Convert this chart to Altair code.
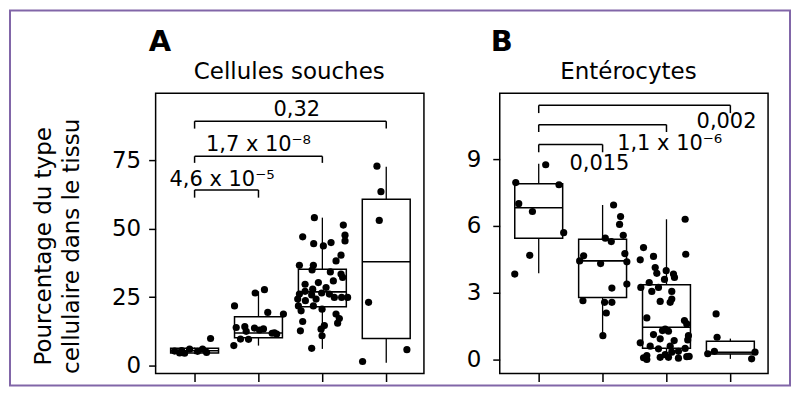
import altair as alt
import pandas as pd

FONT = "DejaVu Sans"

# ---------------- data ----------------
groups = [1, 2, 3, 4]

# Panel A : Cellules souches
A_q1 = [4.6, 10.2, 21.5, 9.9]
A_med = [5.4, 11.9, 26.9, 37.9]
A_q3 = [6.3, 17.8, 35.2, 60.7]
A_lo = [4.2, 7.3, 6.1, 1.0]
A_hi = [6.6, 27.1, 54.0, 72.6]

A_pt_group = [1]*9 + [2]*17 + [3]*45 + [4]*6
A_pt_jit_px = [
    -13, -10, -5, 8, 12, 3, -15, 16, -20,
    6, -3.3, -24, 9.3, 25, -22.3, -13.7, -4, 5, 13.7, 18.3, -18, -10, -24.7, -12.3, 1, 16,
    -8, -19.7, 21, 22.7, 22.7, -8.7, 1, 8.7, 18.7, 13.7, -23, -9, -10.3, 8, 18.7, 20.3, -17.3,
    -4, 11, -9.7, -17.3, -0.7, 7, 12, 19.3, 25.3, -10.7, -24.7, -17, -24, -9, -0.3, -21.3,
    13.7, 17, -19.7, 15.3, 2, -1.3, -22, -0.3, -10.7, 3.7, -6.3, -23,
    -9.3, -5.3, -7, -17.7, 20.7, -23.7,
]
A_pt_val = [
    5.5, 4.5, 6.0, 6.0, 4.8, 5.2, 4.6, 9.9, 5.3,
    27.7, 26.5, 21.8, 19.4, 18.8, 13.9, 14.2, 13.7, 13.4, 11.8, 11.5, 9.7, 9.6, 7.3, 12.5, 13.0, 12.0,
    54.0, 47.0, 51.3, 47.6, 45.5, 44.5, 43.7, 44.9, 40.3, 38.2, 36.6, 36.6, 34.9, 34.2, 33.4, 32.2, 29.7,
    30.3, 30.9, 27.9, 27.1, 26.5, 26.1, 24.9, 24.9, 24.9, 25.8, 24.3, 23.7, 21.8, 21.8, 20.6, 20.0,
    18.8, 17.2, 16.1, 15.5, 14.6, 13.3, 12.7, 10.9, 6.3, 28.5, 24.3, 26.1,
    72.8, 63.5, 53.0, 23.1, 5.8, 1.5,
]

A_br_end = [2, 3, 4]
A_br_y = [64.1, 76.4, 89.2]
A_br_drop = [61.3, 74.0, 86.5]
A_lab_text = ["4,6 x 10⁻⁵", "1,7 x 10⁻⁸", "0,32"]
A_lab_x = [1.43, 2.0, 2.6]
A_lab_y = [65.5, 78.3, 91.0]

# Panel B : Entérocytes
B_q1 = [5.45, 2.79, 0.51, 0.25]
B_med = [6.82, 4.43, 1.45, 0.32]
B_q3 = [7.9, 5.4, 3.36, 0.82]
B_lo = [3.87, 1.07, 0.0, 0.03]
B_hi = [8.79, 6.94, 6.3, 0.94]

B_pt_group = [1]*8 + [2]*18 + [3]*46 + [4]*6
B_pt_jit_px = [
    7, -23, 20.3, -20, -6.3, 25, -9, -24,
    11, 18, 17, 20.7, 2.7, 8.7, -19, -23, 22.3, 24.3, -2, 24.3, 9.3, -19.7, 2, 9.3, 3.7, 0.3,
    18.7, 19.3, -23, -13, -26.3, -11.3, -9.7, -0.3, 7, 8, -2, -17.3, -25.7, -8, -14.7, 5.3,
    -6.3, 3.7, 5.3, -19.7, 18, 20.3, -1.3, -4, -13, 2, 22, 21.3, -6.3, 7.7, -26.3, -16.3,
    3.7, 18.7, -8, 12, 5.3, -19.7, -23, -19.7, -6.3, 2, -1.3, 12, 20.3, 22.7,
    -14.3, -13.3, -16, -22.7, 24.7, 21.3,
]
B_pt_val = [
    8.75, 7.95, 7.85, 7.0, 6.65, 5.7, 4.68, 3.84,
    6.94, 6.42, 6.07, 5.58, 5.45, 5.3, 4.66, 4.43, 4.76, 4.39, 4.31, 3.39, 3.21, 2.64, 2.57, 2.57, 2.09, 1.07,
    6.3, 4.73, 5.03, 4.63, 4.48, 4.13, 3.87, 3.99, 3.84, 3.69, 3.6, 3.46, 3.24, 3.24, 3.06, 3.06,
    2.61, 2.57, 2.72, 1.87, 1.75, 1.6, 1.37, 1.3, 1.12, 1.27, 1.07, 0.88, 0.93, 0.85, 0.75, 0.6,
    0.6, 0.5, 0.48, 0.37, 0.33, 0.18, 0.08, 0.0, 0.1, 0.1, 0.22, 0.06, 0.13, 0.14,
    2.05, 1.0, 0.37, 0.26, 0.33, 0.03,
]

B_br_end = [2, 3, 4]
B_br_y = [9.66, 10.55, 11.42]
B_br_drop = [9.31, 10.22, 11.07]
B_lab_text = ["0,015", "1,1 x 10⁻⁶", "0,002"]
B_lab_x = [1.95, 3.05, 3.94]
B_lab_y = [8.51, 9.39, 10.4]

panel_letters = ["A", "B"]
panel_titles = ["Cellules souches", "Entérocytes"]
y_title = ["Pourcentage du type", "cellulaire dans le tissu"]
A_ticks = [0, 25, 50, 75]
B_ticks = [0, 3, 6, 9]
A_domain = [-2.9, 99.4]
B_domain = [-0.63, 11.96]
X_domain = [0.39, 4.59]

W, H = 269, 281
STEP = 64.0
BOX_HALF = 0.375


def panel(q1, med, q3, lo, hi, pg, pj, pv, br_end, br_y, br_drop,
          lab_text, lab_x, lab_y, ticks, ydom, letter, title, ytitle, letter_dx, title_x,
          label_pad, border):
    boxes = pd.DataFrame({
        "g": groups, "x1": [g - BOX_HALF for g in groups], "x2": [g + BOX_HALF for g in groups],
        "q1": q1, "med": med, "q3": q3, "lo": lo, "hi": hi,
    })
    pts = pd.DataFrame({"x": [g + j / STEP for g, j in zip(pg, pj)], "v": pv})
    br = pd.DataFrame({"x1": [1]*3, "x2": br_end, "y": br_y, "yd": br_drop})
    labs = pd.DataFrame({"x": lab_x, "y": lab_y, "t": lab_text})

    xs = alt.Scale(domain=X_domain, nice=False, zero=False)
    ys = alt.Scale(domain=ydom, nice=False, zero=False)
    xax = alt.Axis(values=groups, labels=False, title=None, grid=False, domain=False,
                   ticks=True, tickSize=8, tickWidth=1.5, tickColor="black")
    ax_kw = dict(values=ticks, grid=False, domain=False, tickSize=7, tickWidth=1.5,
                 tickColor="black", labelFont=FONT, labelFontSize=23, labelColor="black",
                 labelPadding=label_pad)
    if ytitle:
        ax_kw.update(title=ytitle, titleFont=FONT, titleFontSize=23,
                     titleFontWeight="normal", titleColor="black", titleLineHeight=28,
                     titleX=-100, titleY=153, titleAngle=270, titleAlign="center",
                     titleBaseline="bottom")
    else:
        ax_kw.update(title=None)
    yax = alt.Axis(**ax_kw)

    base_box = alt.Chart(boxes)
    whisk_lo = base_box.mark_rule(color="black", strokeWidth=1.3).encode(
        x=alt.X("g:Q", scale=xs, axis=xax), y=alt.Y("lo:Q", scale=ys, axis=yax), y2="q1:Q")
    whisk_hi = base_box.mark_rule(color="black", strokeWidth=1.3).encode(
        x=alt.X("g:Q"), y=alt.Y("q3:Q"), y2="hi:Q")
    rect = base_box.mark_rect(fill="white", stroke="black", strokeWidth=1.5).encode(
        x="x1:Q", x2="x2:Q", y="q1:Q", y2="q3:Q")
    medl = base_box.mark_rule(color="black", strokeWidth=1.6).encode(
        x="x1:Q", x2="x2:Q", y="med:Q")
    points = alt.Chart(pts).mark_circle(color="black", opacity=1, size=52).encode(
        x="x:Q", y="v:Q")
    br_h = alt.Chart(br).mark_rule(color="black", strokeWidth=1.5).encode(
        x="x1:Q", x2="x2:Q", y="y:Q")
    br_l = alt.Chart(br).mark_rule(color="black", strokeWidth=1.5).encode(
        x="x1:Q", y="y:Q", y2="yd:Q")
    br_r = alt.Chart(br).mark_rule(color="black", strokeWidth=1.5).encode(
        x="x2:Q", y="y:Q", y2="yd:Q")
    labels = alt.Chart(labs).mark_text(font=FONT, fontSize=21, color="black",
                                       align="center", baseline="alphabetic").encode(
        x="x:Q", y="y:Q", text="t:N")
    let = alt.Chart(pd.DataFrame({"t": [letter]})).mark_text(
        font=FONT, fontSize=29, fontWeight="bold", color="black", align="left",
        baseline="alphabetic").encode(x=alt.value(letter_dx), y=alt.value(-42), text="t:N")
    tit = alt.Chart(pd.DataFrame({"t": [title]})).mark_text(
        font=FONT, fontSize=23, color="black", align="center",
        baseline="alphabetic").encode(x=alt.value(title_x), y=alt.value(-14), text="t:N")
    layers = [whisk_lo, whisk_hi, rect, medl, points, br_h, br_l, br_r, labels, let, tit]
    if border:
        frame = alt.Chart(pd.DataFrame({"k": [0]})).mark_rect(
            fill=None, stroke="#8166a8", strokeWidth=2).encode(
            x=alt.value(-146), x2=alt.value(636), y=alt.value(-83), y2=alt.value(293))
        layers = [frame] + layers
    return alt.layer(*layers).properties(width=W, height=H)


pA = panel(A_q1, A_med, A_q3, A_lo, A_hi, A_pt_group, A_pt_jit_px, A_pt_val,
           A_br_end, A_br_y, A_br_drop, A_lab_text, A_lab_x, A_lab_y, A_ticks, A_domain,
           panel_letters[0], panel_titles[0], y_title, -7, 134, 8, True)
pB = panel(B_q1, B_med, B_q3, B_lo, B_hi, B_pt_group, B_pt_jit_px, B_pt_val,
           B_br_end, B_br_y, B_br_drop, B_lab_text, B_lab_x, B_lab_y, B_ticks, B_domain,
           panel_letters[1], panel_titles[1], None, -9, 129, 12, False)

chart = alt.hconcat(pA, pB, spacing=76, bounds="flush").resolve_scale(
    x="independent", y="independent").configure_view(
    stroke="black", strokeWidth=1.5).properties(padding=0, background="white")

chart.save("out.html", embed_options={"renderer": "svg", "actions": False})
